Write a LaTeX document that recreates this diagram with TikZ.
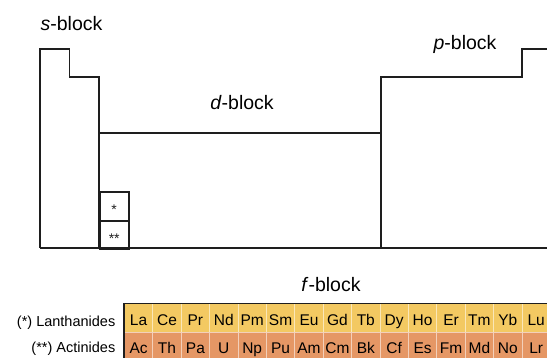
\documentclass[tikz,border=0pt]{standalone}
\usepackage{fontspec}
\setmainfont{Liberation Sans}
\definecolor{lanthYellow}{RGB}{243,201,98}
\definecolor{actinOrange}{RGB}{229,151,101}
\definecolor{outlineGray}{RGB}{30,30,30}

\begin{document}
\begin{tikzpicture}[x=1pt, y=-1pt,
    outline/.style={line width=1.8pt, color=outlineGray, line join=miter},
    blocklabel/.style={font=\fontsize{19.5}{22}\selectfont, anchor=base, inner sep=0pt},
    rowlabel/.style={font=\fontsize{14.5}{17}\selectfont, anchor=base east, inner sep=0pt},
    starbox/.style={draw, line width=1.8pt, color=outlineGray, minimum width=29.2pt, minimum height=28.5pt, inner sep=0pt, anchor=north west, text height=16pt, text depth=0pt, font=\fontsize{14}{16}\selectfont},
    elcell/.style={draw=white!55!#1, fill=#1, line width=0.8pt, minimum width=28.4pt, minimum height=28.5pt, inner sep=0pt, anchor=north west, text height=14pt, text depth=0pt, font=\fontsize{15.5}{18}\selectfont}
]
\useasboundingbox (0,0) rectangle (547,358);

% main table outline
\draw[outline] (40,248) -- (40,49) -- (69.5,49) -- (69.5,77.3) -- (98.7,77.3) -- (98.7,248);
\draw[outline] (98.7,133) -- (380.7,133);
\draw[outline] (380.7,248) -- (380.7,77.3) -- (521.7,77.3) -- (521.7,49) -- (560,49);
\draw[outline] (40,248) -- (560,248);

\node[starbox] (lanbox) at (98.7,191.5) {*};
\node[starbox] (actbox) at (98.7,220) {**};

\node[blocklabel] (sblock) at (71.5,31) {\textit{s}-block};
\node[blocklabel] (pblock) at (465,49.3) {\textit{p}-block};
\node[blocklabel] (dblock) at (242,110) {\textit{d}-block};
\node[blocklabel] (fblock) at (331,291.7) {\textit{f}-block};

% f-block rows
\foreach \el [count=\i from 0] in {La,Ce,Pr,Nd,Pm,Sm,Eu,Gd,Tb,Dy,Ho,Er,Tm,Yb,Lu}
  \node[elcell=lanthYellow] (lan\i) at (124+28.4*\i,303.5) {\el};
\foreach \el [count=\i from 0] in {Ac,Th,Pa,U,Np,Pu,Am,Cm,Bk,Cf,Es,Fm,Md,No,Lr}
  \node[elcell=actinOrange] (act\i) at (124+28.4*\i,332) {\el};
\draw[line width=1.2pt, color=outlineGray] (lan0.north west) rectangle (act14.south east);

\node[rowlabel] (lanlabel) at (115.5,326.5) {(*) Lanthanides};
\node[rowlabel] (actlabel) at (115.5,353) {(**) Actinides};
\end{tikzpicture}
\end{document}
